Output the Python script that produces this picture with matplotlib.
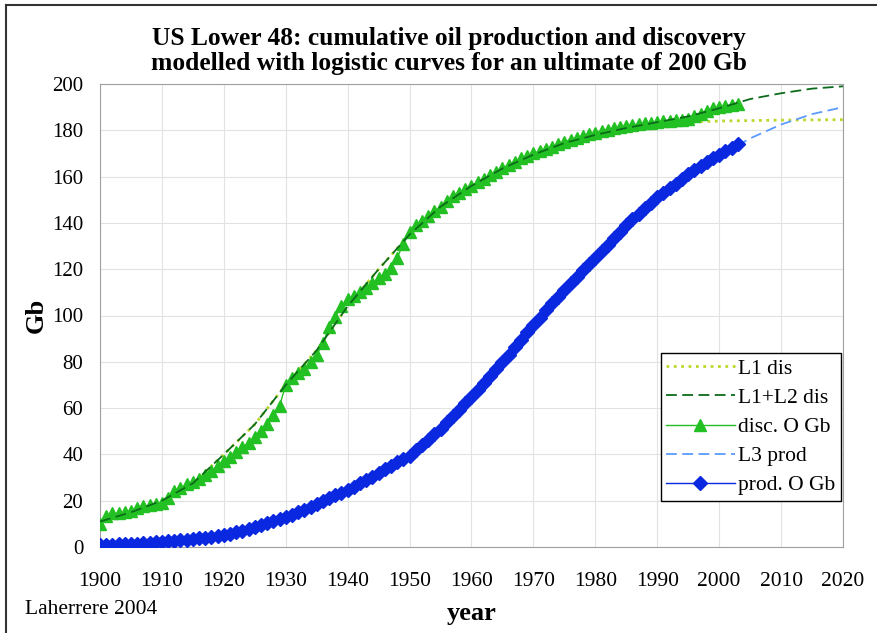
import matplotlib
matplotlib.use('Agg')
import matplotlib.pyplot as plt
from matplotlib.lines import Line2D

plt.rcParams['font.family'] = ['Liberation Serif', 'DejaVu Serif']

# observed, yearly 1900-2003
years = list(range(1900, 2004))
disc = [10, 13.5, 14.5, 14.5, 15, 15.5, 17, 17.5, 18, 18.5,
        19, 21, 24, 25.5, 27, 28, 29.5, 31, 33, 35,
        37, 39, 41, 43, 45, 47.5, 50, 53, 57, 61,
        70, 73, 75, 77, 80, 83, 88, 95, 99.5, 104,
        107, 108.5, 110, 112, 114, 116, 118, 120.5, 125, 131,
        136, 139, 141, 143, 145, 147, 149.5, 151.5, 153, 154.5,
        156, 157.5, 159, 160.5, 162, 163.5, 165, 166.5, 168, 169,
        170, 171, 172, 173, 174, 175, 176, 176.8, 177.6, 178.3,
        179, 179.7, 180.3, 180.9, 181.4, 181.9, 182.3, 182.7, 183, 183.3,
        183.6, 183.9, 184.1, 184.3, 184.6, 185, 186, 187, 188.5, 189.5,
        190, 190.5, 191, 191.5]
prod = [0.8, 0.9, 1.0, 1.1, 1.2, 1.3, 1.5, 1.7, 1.9, 2.1,
        2.3, 2.5, 2.7, 2.9, 3.2, 3.5, 3.8, 4.1, 4.5, 4.9,
        5.3, 5.8, 6.4, 7.0, 7.7, 8.5, 9.3, 10.2, 11.1, 12.0,
        13.0, 14.0, 15.0, 16.0, 17.2, 18.5, 19.7, 21.0, 22.3, 23.5,
        24.7, 26.1, 27.5, 28.9, 30.4, 32.0, 33.5, 35.0, 36.6, 38.0,
        39.5, 41.7, 43.9, 46.2, 48.6, 51.0, 53.8, 56.6, 59.3, 62.1,
        65.0, 67.9, 70.9, 73.8, 76.9, 80.0, 83.1, 86.3, 89.5, 92.7,
        96.0, 99.1, 102.2, 105.2, 108.1, 111.0, 113.9, 116.7, 119.5, 122.3,
        125.0, 127.8, 130.6, 133.4, 136.2, 139.0, 141.5, 144.0, 146.4, 148.7,
        151.0, 153.0, 155.0, 157.0, 159.0, 161.0, 162.8, 164.5, 166.2, 167.9,
        169.5, 171.0, 172.5, 174.0]

# logistic models, read every 5 years
model_years = [1900, 1905, 1910, 1915, 1920, 1925, 1930, 1935, 1940, 1945,
               1950, 1955, 1960, 1965, 1970, 1975, 1980, 1985, 1990, 1995,
               2000, 2005, 2010, 2015, 2020]
l1_dis = [11, 15, 20, 27.5, 40, 53, 70, 85, 104, 120,
          135, 147, 156, 163.5, 169.5, 174.5, 178, 181, 182.5, 183.5,
          184, 184.2, 184.4, 184.5, 184.6]
l12_dis = [11, 15, 20, 27.5, 40, 53, 70, 85, 104, 120,
           135, 147, 156, 163.5, 169.5, 174.5, 178, 181, 183.5, 186,
           189.5, 193.5, 196, 198, 199]
l3_prod = [1, 1.6, 2.6, 4, 6, 8.8, 12.8, 18, 24.5, 32,
           40.5, 51, 64, 79, 95, 110.5, 125, 138.5, 150.5, 160.5,
           169, 176.5, 182.5, 187, 190]

fig = plt.figure(figsize=(8.77, 6.33), dpi=100)
ax = fig.add_axes([100/877, 1-547/633, 743/877, 463/633])

ax.plot(model_years, l1_dis, ':', color='#b8d82a', lw=2, label='L1 dis', zorder=2)
ax.plot(model_years, l12_dis, '--', color='#0b6b1a', lw=1.3, dashes=(6, 3), label='L1+L2 dis', zorder=4)
ax.plot(years, disc, '-', color='#22c022', lw=1, marker='^', ms=8, mec='#22c022', label='disc. O Gb', zorder=3)
ax.plot(model_years, l3_prod, '--', color='#5b9bff', lw=1.3, dashes=(6, 3), label='L3 prod', zorder=2)
ax.plot(years, prod, '-', color='#0a28e0', lw=1, marker='D', ms=7, mec='#0a28e0', label='prod. O Gb', zorder=3)

ax.set_xlim(1900, 2020)
ax.set_ylim(0, 200)
ax.set_xticks(range(1900, 2021, 10))
ax.set_yticks(range(0, 201, 20))
ax.grid(True, color='#e2e2e2', lw=0.8)
ax.set_axisbelow(True)
for s in ax.spines.values():
    s.set_color('#a0a0a0')
ax.tick_params(length=0)
ax.tick_params(axis='x', pad=18, labelsize=15.5)
ax.tick_params(axis='y', pad=12, labelsize=15)

ax.set_xlabel('year', fontsize=19, fontweight='bold', labelpad=8)
ax.set_ylabel('Gb', fontsize=19, fontweight='bold', labelpad=3)

fig.text(449/877, 1-51/633,
         'US Lower 48: cumulative oil production and discovery\n'
         'modelled with logistic curves for an ultimate of 200 Gb',
         fontsize=18.4, fontweight='bold', ha='center', va='center',
         multialignment='center', linespacing=1.1)

leg = ax.legend(loc='lower right', bbox_to_anchor=(0.997, 0.1), fontsize=15.5,
                numpoints=1, handlelength=3.2, fancybox=False, framealpha=1,
                edgecolor='black', borderpad=0.25, labelspacing=0.42,
                handletextpad=0.15, borderaxespad=0)
leg.get_frame().set_linewidth(1)

fig.text(25/877, 1-610/633, 'Laherrere 2004', fontsize=15.5, va='center')

# outer frame (top and left edges visible)
fig.add_artist(Line2D([6/877, 6/877], [0, 1-5/633], transform=fig.transFigure, color='#333333', lw=1.5))
fig.add_artist(Line2D([6/877, 1], [1-5/633, 1-5/633], transform=fig.transFigure, color='#333333', lw=1.5))

fig.savefig('out.png', dpi=100)
